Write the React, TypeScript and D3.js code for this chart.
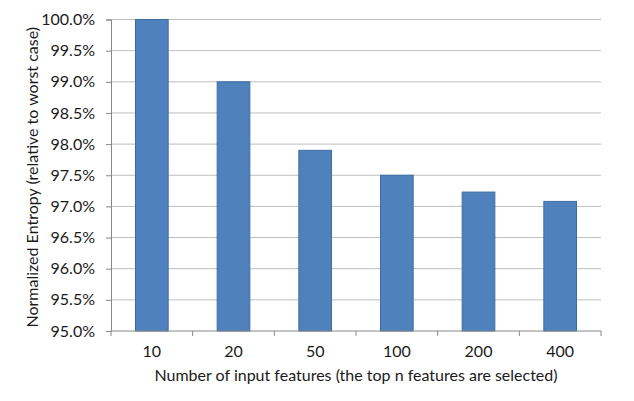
import React, { useRef, useEffect } from 'react';
import * as d3 from 'd3';

const categories = ['10', '20', '50', '100', '200', '400'];
const entropy = [1.0, 0.99, 0.979, 0.975, 0.9723, 0.9708];
const yTicks = [0.95, 0.955, 0.96, 0.965, 0.97, 0.975, 0.98, 0.985, 0.99, 0.995, 1.0];

const width = 634;
const height = 401;
const margin = { top: 19.5, right: 33, bottom: 70, left: 111 };

const App = () => {
  const svgRef = useRef<SVGSVGElement>(null);

  useEffect(() => {
    const svg = d3.select(svgRef.current);
    svg.selectAll('*').remove();

    const innerW = width - margin.left - margin.right;
    const innerH = height - margin.top - margin.bottom;

    const x = d3.scaleBand()
      .domain(categories)
      .range([0, innerW])
      .paddingInner(0.6)
      .paddingOuter(0.3);

    const y = d3.scaleLinear().domain([0.95, 1.0]).range([innerH, 0]);

    const g = svg.append('g').attr('transform', `translate(${margin.left},${margin.top})`);

    // gridlines
    g.selectAll('.grid')
      .data(yTicks.slice(1))
      .enter()
      .append('line')
      .attr('x1', 0)
      .attr('x2', innerW)
      .attr('y1', (d) => y(d))
      .attr('y2', (d) => y(d))
      .attr('stroke', '#bdbdbd')
      .attr('stroke-width', 1);

    // bars
    g.selectAll('.bar')
      .data(entropy)
      .enter()
      .append('rect')
      .attr('x', (d, i) => x(categories[i])!)
      .attr('y', (d) => y(d))
      .attr('width', x.bandwidth())
      .attr('height', (d) => innerH - y(d))
      .attr('fill', '#4f81bd')
      .attr('stroke', '#3e6c9f')
      .attr('stroke-width', 1);

    // y axis
    const yAxis = d3.axisLeft(y)
      .tickValues(yTicks)
      .tickFormat(d3.format('.1%'))
      .tickSize(5)
      .tickPadding(11);
    const ya = g.append('g').call(yAxis);
    ya.select('.domain').attr('stroke', '#888');
    ya.selectAll('.tick line').attr('stroke', '#888');
    ya.selectAll('text')
      .attr('font-family', 'Lato, sans-serif')
      .attr('font-size', 16)
      .attr('fill', '#1a1a1a');

    // x axis, ticks at category boundaries
    const xa = g.append('g').attr('transform', `translate(0,${innerH})`);
    xa.append('line')
      .attr('x1', 0).attr('x2', innerW)
      .attr('y1', 0).attr('y2', 0)
      .attr('stroke', '#888');
    const step = innerW / categories.length;
    xa.selectAll('.xt')
      .data(d3.range(categories.length + 1))
      .enter()
      .append('line')
      .attr('x1', (d) => d * step)
      .attr('x2', (d) => d * step)
      .attr('y1', 0)
      .attr('y2', 5)
      .attr('stroke', '#888');
    xa.selectAll('.xl')
      .data(categories)
      .enter()
      .append('text')
      .attr('x', (d) => x(d)! + x.bandwidth() / 2)
      .attr('y', 26)
      .attr('text-anchor', 'middle')
      .attr('font-family', 'Lato, sans-serif')
      .attr('font-size', 16)
      .attr('fill', '#1a1a1a')
      .text((d) => d);

    svg.append('text')
      .attr('x', margin.left + innerW / 2)
      .attr('y', 381)
      .attr('text-anchor', 'middle')
      .attr('font-family', 'Lato, sans-serif')
      .attr('font-size', 16)
      .attr('fill', '#1a1a1a')
      .text('Number of input features (the top n features are selected)');

    svg.append('text')
      .attr('transform', `translate(38,${margin.top + innerH / 2 + 2}) rotate(-90)`)
      .attr('text-anchor', 'middle')
      .attr('font-family', 'Lato, sans-serif')
      .attr('font-size', 16)
      .attr('fill', '#1a1a1a')
      .text('Normalized Entropy (relative to worst case)');
  }, []);

  return (
    <svg
      ref={svgRef}
      width={width}
      height={height}
      style={{ position: 'absolute', left: 0, top: 0, background: '#fff' }}
    ></svg>
  );
};

export default App;
